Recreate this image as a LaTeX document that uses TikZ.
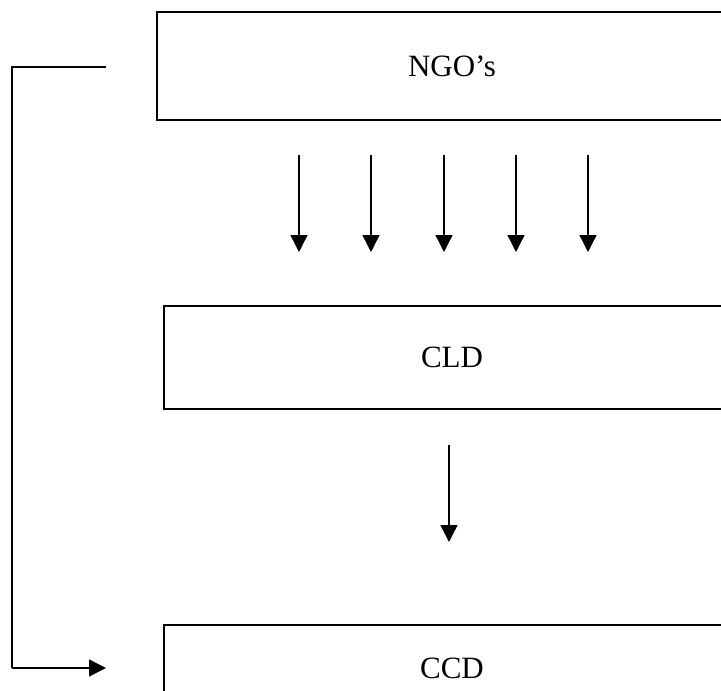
\documentclass[tikz,border=0pt]{standalone}
\usepackage{fontspec}
\setmainfont{Liberation Serif}
\usetikzlibrary{arrows.meta}
\begin{document}
\begin{tikzpicture}[x=1pt,y=-1pt,
  box/.style={draw,line width=1.4pt,inner sep=0pt,font=\fontsize{31}{36}\selectfont},
  arr/.style={line width=1.4pt,-{Triangle[width=17pt,length=17pt]}},
  conn/.style={line width=1.4pt}]
\useasboundingbox (0,0) rectangle (721,691);
\clip (0,0) rectangle (721,691);
\node[box,minimum width=590pt,minimum height=108pt] (ngo) at (452,66) {NGO’s};
\node[box,minimum width=576pt,minimum height=103pt] (cld) at (452,357.5) {CLD};
\node[box,minimum width=576pt,minimum height=86pt] (ccd) at (452,668) {CCD};
\foreach \i/\x in {1/299,2/371,3/444,4/516,5/588}{
  \coordinate (s\i) at (\x,155);
  \coordinate (t\i) at (\x,252);
  \draw[arr] (s\i) -- (t\i);
}
\coordinate (m1) at (449,445);
\coordinate (m2) at (449,542);
\draw[arr] (m1) -- (m2);
\coordinate (a) at (106,67);
\coordinate (b) at (12,67);
\coordinate (c) at (12,668);
\coordinate (d) at (106,668);
\draw[conn] (a) -- (b) -- (c);
\draw[arr] (c) -- (d);
\end{tikzpicture}
\end{document}
